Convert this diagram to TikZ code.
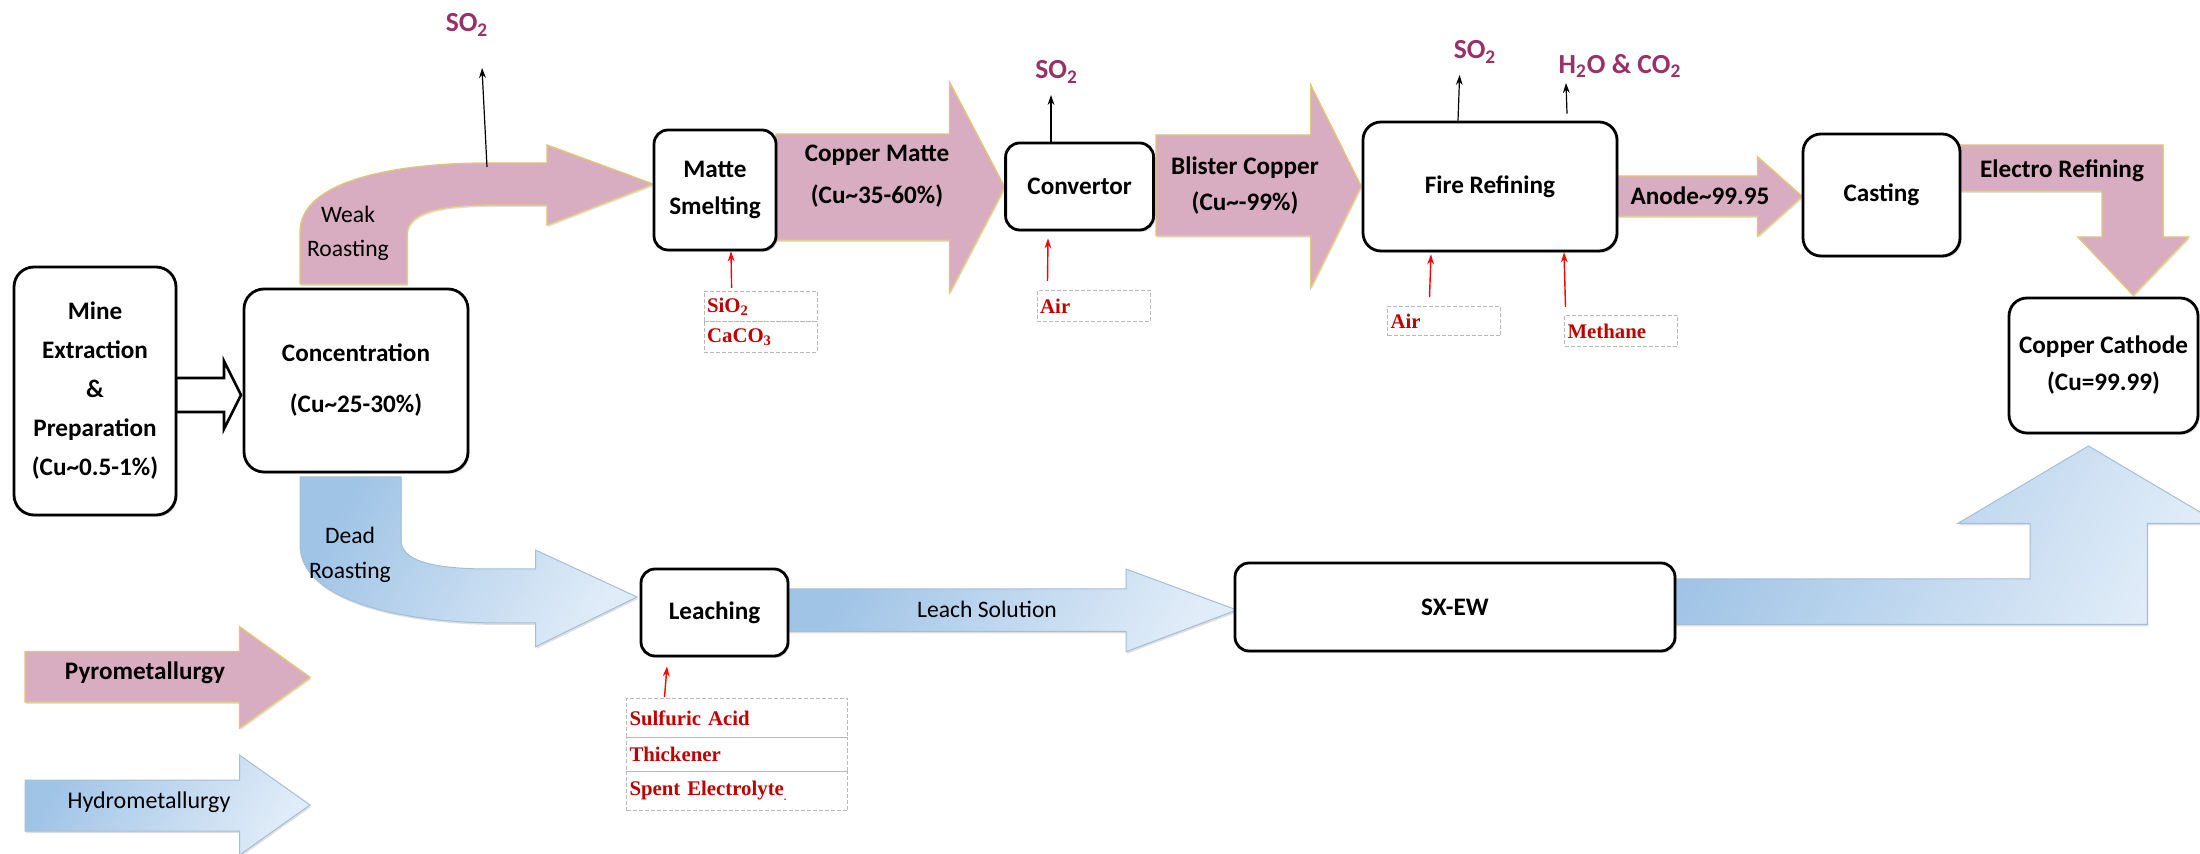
\documentclass[tikz,border=0pt]{standalone}
\usepackage{fontspec}
\setmainfont{Carlito}
\newfontfamily\timesf{Liberation Serif}
\usetikzlibrary{shadows,arrows.meta,calc}

\definecolor{pinkc}{RGB}{216,172,193}
\definecolor{goldc}{RGB}{226,196,122}
\definecolor{bD}{RGB}{160,196,230}
\definecolor{bL}{RGB}{224,236,248}
\definecolor{bEdge}{RGB}{165,190,216}
\definecolor{purp}{RGB}{153,48,102}
\definecolor{redt}{RGB}{192,0,0}

\tikzset{
  box/.style={draw=black, line width=1.4pt, rounded corners=7pt, fill=white,
    align=center, inner sep=0pt,
    font=\bfseries\fontsize{12.6}{18.5}\selectfont,
    drop shadow={shadow xshift=0.8pt, shadow yshift=-0.9pt, opacity=0.3}},
  pinkarrow/.style={fill=pinkc, draw=goldc, line width=0.7pt,
    drop shadow={shadow xshift=0.5pt, shadow yshift=-1pt, opacity=0.25}},
  bluearrow/.style={left color=bD, right color=bL, shading angle=60,
    draw=bEdge, line width=0.5pt,
    drop shadow={shadow xshift=0.5pt, shadow yshift=-1pt, opacity=0.25}},
  hollowarrow/.style={draw=black, line width=1.3pt, fill=white},
  gas/.style={text=purp, inner sep=1pt, font=\bfseries\fontsize{13.8}{16}\selectfont},
  gasarrow/.style={-{Stealth[length=5pt,width=3.4pt]}, line width=0.6pt, draw=black},
  feedarrow/.style={-{Stealth[length=5pt,width=3.4pt]}, line width=0.7pt, draw=red},
  feedbox/.style={draw=black!28, dash pattern=on 2pt off 1pt, line width=0.5pt,
    anchor=north west, inner xsep=1.5pt, inner ysep=0pt, align=left, text=redt,
    font=\timesf\bfseries\fontsize{10.4}{12}\selectfont},
  flowtext/.style={align=center, inner sep=1pt, font=\bfseries\fontsize{12.6}{21}\selectfont},
  thintext/.style={align=center, inner sep=1pt, font=\fontsize{11.8}{17}\selectfont},
}

\begin{document}
\begin{tikzpicture}[x=0.5pt,y=-0.5pt]
\path[use as bounding box, fill=white] (0,0) rectangle (2200,854);

% ---------- pyrometallurgy block arrows ----------
\path[pinkarrow] (300,284) -- (300,232) .. controls (300,182) and (390,163) .. (490,163)
  -- (547,163) -- (547,145) -- (653,184) -- (547,225) -- (547,205) -- (490,205)
  .. controls (440,205) and (407,212) .. (407,234) -- (407,284) -- cycle;
\path[pinkarrow] (776,134) -- (949.5,134) -- (949.5,82) -- (1004.6,187) -- (949.5,292.5)
  -- (949.5,240) -- (776,240) -- cycle;
\path[pinkarrow] (1156,135) -- (1310.7,135) -- (1310.7,85) -- (1361,186) -- (1310.7,287.5)
  -- (1310.7,235.6) -- (1156,235.6) -- cycle;
\path[pinkarrow] (1617,176) -- (1757.5,176) -- (1757.5,156.7) -- (1802,196.3) -- (1757.5,236)
  -- (1757.5,216) -- (1617,216) -- cycle;
\path[pinkarrow] (1960,145) -- (2163,145) -- (2163,237) -- (2188.6,237) -- (2133,295)
  -- (2078,237) -- (2102,237) -- (2102,191) -- (1960,191) -- cycle;
\path[pinkarrow] (25,651.7) -- (239.5,651.7) -- (239.5,626.7) -- (310,677.3) -- (239.5,728)
  -- (239.5,702) -- (25,702) -- cycle;

% ---------- hydrometallurgy block arrows ----------
\path[bluearrow] (300,477) -- (300,545) .. controls (300,600) and (400,623) .. (500,623)
  -- (535.5,623) -- (535.5,646.7) -- (637,597) -- (535.5,550) -- (535.5,569) -- (490,569)
  .. controls (430,569) and (401,560) .. (401,540) -- (401,477) -- cycle;
\path[bluearrow] (788,589) -- (1126,589) -- (1126,569) -- (1236.8,610) -- (1126,651.7)
  -- (1126,631.5) -- (788,631.5) -- cycle;
\path[bluearrow] (1675,579) -- (2030,579) -- (2030,523.3) -- (1958,523.3) -- (2088.5,446)
  -- (2219,523.3) -- (2147.4,523.3) -- (2147.4,624.5) -- (1675,624.5) -- cycle;
\path[bluearrow] (25,780) -- (239.5,780) -- (239.5,755) -- (310,805) -- (239.5,855)
  -- (239.5,831) -- (25,831) -- cycle;

% ---------- hollow arrow ----------
\path[hollowarrow] (176,378) -- (224,378) -- (224,361) -- (241,395) -- (224,429)
  -- (224,412) -- (176,412) -- cycle;

% ---------- process boxes ----------
\node[box, rounded corners=10pt, minimum width=81pt, minimum height=124pt,
  font=\bfseries\fontsize{12.6}{19.5}\selectfont] (mine) at (95,391)
  {Mine\\Extraction\\\&\\Preparation\\(Cu\textasciitilde 0.5-1\%)};
\node[box, rounded corners=10pt, minimum width=112pt, minimum height=91.5pt,
  font=\bfseries\fontsize{12.6}{25.5}\selectfont] (conc) at (356,380.5)
  {Concentration\\(Cu\textasciitilde 25-30\%)};
\node[box, minimum width=61pt, minimum height=60pt] (matte) at (715,190) {Matte\\Smelting};
\node[box, minimum width=74pt, minimum height=43.5pt] (conv) at (1079.6,186.5) {Convertor};
\node[box, rounded corners=9pt, minimum width=127pt, minimum height=64.5pt] (fire) at (1490,186.5) {Fire Refining};
\node[box, rounded corners=9pt, minimum width=78.5pt, minimum height=61pt] (cast) at (1881.5,195) {Casting};
\node[box, rounded corners=9pt, minimum width=94.5pt, minimum height=67.5pt] (cath) at (2103.5,365.5)
  {Copper Cathode\\(Cu=99.99)};
\node[box, minimum width=73.5pt, minimum height=43.5pt] (leach) at (714.5,612.5) {Leaching};
\node[box, minimum width=220pt, minimum height=44pt] (sxew) at (1455,607) {SX-EW};

% ---------- texts on block arrows ----------
\node[thintext] (twr) at (348,233) {Weak\\Roasting};
\node[flowtext] (tcm) at (877,176) {Copper Matte\\(Cu\textasciitilde 35-60\%)};
\node[flowtext, font=\bfseries\fontsize{12.6}{18}\selectfont] (tbc) at (1245,186) {Blister Copper\\(Cu\textasciitilde -99\%)};
\node[flowtext] (tan) at (1700,196) {Anode\textasciitilde 99.95};
\node[flowtext] (ter) at (2062,171) {Electro Refining};
\node[thintext, font=\fontsize{11.8}{17.5}\selectfont] (tdr) at (350,554.5) {Dead\\Roasting};
\node[thintext] (tls) at (987,609) {Leach Solution};
\node[flowtext] (tpy) at (145,673) {Pyrometallurgy};
\node[thintext, font=\fontsize{12}{14}\selectfont] (thy) at (149,802) {Hydrometallurgy};

% ---------- gas outputs ----------
\node[gas] (so2a) at (467,25) {SO\textsubscript{2}};
\node[gas] (so2b) at (1056.6,72) {SO\textsubscript{2}};
\node[gas] (so2c) at (1475,52) {SO\textsubscript{2}};
\node[gas] (h2o) at (1620,66) {H\textsubscript{2}O \& CO\textsubscript{2}};
\coordinate (wrS) at (487,167);
\draw[gasarrow] (wrS) -- ([xshift=7.5pt,yshift=-21.5pt]so2a.center);
\draw[gasarrow] ([xshift=-14.3pt]conv.north) -- ([xshift=-2.8pt,yshift=-11.5pt]so2b.center);
\draw[gasarrow] ([xshift=-16pt]fire.north) -- ([xshift=-7.7pt,yshift=-11.5pt]so2c.center);
\draw[gasarrow] ([xshift=38.5pt,yshift=3.5pt]fire.north) -- ([xshift=-27pt,yshift=-8.5pt]h2o.center);

% ---------- feed materials ----------
\node[feedbox, minimum width=56.5pt, minimum height=15pt, text width=53.5pt] (sio2) at (703.6,291) {SiO\textsubscript{2}};
\node[feedbox, minimum width=56.5pt, minimum height=15.5pt, text width=53.5pt] (caco3) at (703.6,321) {CaCO\textsubscript{3}};
\node[feedbox, minimum width=56.7pt, minimum height=15.5pt, text width=53.7pt] (aira) at (1036.7,290) {Air};
\node[feedbox, minimum width=56.5pt, minimum height=14.7pt, text width=53.5pt] (airb) at (1387,305.7) {Air};
\node[feedbox, minimum width=56.5pt, minimum height=15.5pt, text width=53.5pt] (meth) at (1564,315) {Methane};
\node[feedbox, minimum width=110.5pt, minimum height=19.5pt, text width=107.5pt] (sulf) at (626,698) {Sulfuric Acid};
\node[feedbox, minimum width=110.5pt, minimum height=17pt, text width=107.5pt] (thick) at (626,737) {Thickener};
\node[feedbox, minimum width=110.5pt, minimum height=19.5pt, text width=107.5pt] (spent) at (626,771)
  {Spent Electrolyte\raisebox{-2.5pt}{\tiny .}};

\draw[feedarrow] ([xshift=-14.5pt,yshift=1.5pt]sio2.north) -- ([xshift=8pt]matte.south);
\draw[feedarrow] ([xshift=-23.2pt,yshift=4.5pt]aira.north) -- ([xshift=-15.8pt,yshift=-3.5pt]conv.south);
\draw[feedarrow] ([xshift=-7.25pt,yshift=4.3pt]airb.north) -- ([xshift=-29.5pt,yshift=-1pt]fire.south);
\draw[feedarrow] ([xshift=-27.75pt,yshift=4pt]meth.north) -- ([xshift=37pt]fire.south);
\draw[feedarrow] ([xshift=-36.25pt,yshift=0.5pt]sulf.north) -- ([xshift=-23.75pt,yshift=-4.5pt]leach.south);
\end{tikzpicture}
\end{document}
